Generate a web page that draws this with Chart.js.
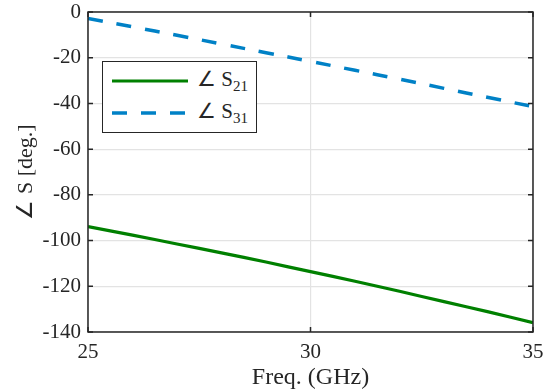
<!DOCTYPE html>
<html>
<head>
<meta charset="utf-8">
<script src="https://cdn.jsdelivr.net/npm/chart.js@4/dist/chart.umd.min.js"></script>
<style>
    html, body { margin: 0; padding: 0; background: #fff; }
    #wrap { position: relative; width: 550px; height: 392px; }
    #legend {
        position: absolute; left: 102px; top: 61px; width: 153px; height: 70px;
        border: 1.5px solid #262626; background: #fff;
        font-family: "Liberation Serif", "Times New Roman", serif; font-size: 21px; color: #262626;
    }
    #legend .row { position: absolute; left: 8px; height: 24px; display: flex; align-items: center; }
    #legend .row span.txt { margin-left: 8px; white-space: nowrap; }
    #legend sub { font-size: 15px; vertical-align: -5px; }
</style>
</head>
<body>
<div id="wrap">
    <canvas id="c" width="550" height="392"></canvas>
    <div id="legend"></div>
</div>
<script>
// Données
var freqs = [25, 26, 27, 28, 29, 30, 31, 32, 33, 34, 35];
var s21Phase = [-93.9, -97.6, -101.5, -105.4, -109.4, -113.6, -117.8, -122.2, -126.7, -131.2, -135.9];
var s31Phase = [-2.8, -6.5, -10.2, -14.0, -17.8, -21.6, -25.5, -29.4, -33.4, -37.4, -41.4];
var xTicks = [25, 30, 35];
var yTicks = [0, -20, -40, -60, -80, -100, -120, -140];

var seriesNames = [
    { base: '\u2220 S', sub: '21' },
    { base: '\u2220 S', sub: '31' }
];

var GREEN = '#008000';
var BLUE  = '#0081c6';
var AXIS  = '#262626';
var SERIF = "'Liberation Serif', 'Times New Roman', serif";

function toPoints(xs, ys) {
    return xs.map(function (x, i) { return { x: x, y: ys[i] }; });
}

// Cadre façon MATLAB : boîte fermée + graduations vers l'intérieur
var boxPlugin = {
    id: 'boxPlugin',
    afterDatasetsDraw: function (chart) {
        var ctx = chart.ctx, a = chart.chartArea;
        var sx = chart.scales.x, sy = chart.scales.y;
        var len = 5;
        ctx.save();
        ctx.strokeStyle = AXIS;
        ctx.lineWidth = 1.5;
        ctx.strokeRect(a.left, a.top, a.right - a.left, a.bottom - a.top);
        ctx.beginPath();
        xTicks.forEach(function (v) {
            var px = sx.getPixelForValue(v);
            ctx.moveTo(px, a.bottom); ctx.lineTo(px, a.bottom - len);
            ctx.moveTo(px, a.top);    ctx.lineTo(px, a.top + len);
        });
        yTicks.forEach(function (v) {
            var py = sy.getPixelForValue(v);
            ctx.moveTo(a.left, py);  ctx.lineTo(a.left + len, py);
            ctx.moveTo(a.right, py); ctx.lineTo(a.right - len, py);
        });
        ctx.stroke();
        ctx.restore();
    }
};

var datasets = [
    {
        label: '\u2220 S21',
        data: toPoints(freqs, s21Phase),
        borderColor: GREEN,
        borderWidth: 3.2,
        pointRadius: 0,
        tension: 0.4,
        fill: false
    },
    {
        label: '\u2220 S31',
        data: toPoints(freqs, s31Phase),
        borderColor: BLUE,
        borderWidth: 3.5,
        borderDash: [15, 14],
        pointRadius: 0,
        tension: 0.4,
        fill: false
    }
];

new Chart(document.getElementById('c'), {
    type: 'line',
    data: { datasets: datasets },
    options: {
        responsive: false,
        animation: false,
        layout: { padding: { top: 12, right: 17, left: 0, bottom: 0 } },
        plugins: {
            legend: { display: false },
            tooltip: { enabled: false }
        },
        scales: {
            x: {
                type: 'linear',
                min: 25,
                max: 35,
                afterBuildTicks: function (s) { s.ticks = xTicks.map(function (v) { return { value: v }; }); },
                afterFit: function (s) {
                    s.height = 60;
                    s.paddingLeft = 0;
                    s.paddingRight = 0;
                },
                ticks: { color: AXIS, font: { family: SERIF, size: 21 }, padding: 8, maxRotation: 0 },
                grid: { color: '#e3e3e3', lineWidth: 1.2, drawTicks: false },
                border: { display: false },
                title: {
                    display: true,
                    text: 'Freq. (GHz)',
                    color: AXIS,
                    font: { family: SERIF, size: 24 },
                    padding: { top: 0, bottom: 0 }
                }
            },
            y: {
                min: -140,
                max: 0,
                afterBuildTicks: function (s) { s.ticks = yTicks.map(function (v) { return { value: v }; }); },
                afterFit: function (s) {
                    s.width = 88;
                    s.paddingTop = 0;
                    s.paddingBottom = 0;
                },
                ticks: { color: AXIS, font: { family: SERIF, size: 21 }, padding: 7 },
                grid: { color: '#e3e3e3', lineWidth: 1.2, drawTicks: false },
                border: { display: false },
                title: {
                    display: true,
                    text: '\u2220 S [deg.]',
                    color: AXIS,
                    font: { family: SERIF, size: 22 },
                    padding: { top: 13, bottom: 0 }
                }
            }
        }
    },
    plugins: [boxPlugin]
});

// Légende HTML pour avoir les indices en vrai texte
var legend = document.getElementById('legend');
datasets.forEach(function (ds, i) {
    var row = document.createElement('div');
    row.className = 'row';
    row.style.top = (7 + i * 32) + 'px';
    var svg = '<svg width="78" height="8"><line x1="1" y1="4" x2="77" y2="4" stroke="' + ds.borderColor +
        '" stroke-width="' + ds.borderWidth + '"' +
        (ds.borderDash ? ' stroke-dasharray="' + ds.borderDash.join(',') + '"' : '') + '/></svg>';
    row.innerHTML = svg + '<span class="txt">' + seriesNames[i].base + '<sub>' + seriesNames[i].sub + '</sub></span>';
    legend.appendChild(row);
});
</script>
</body>
</html>
